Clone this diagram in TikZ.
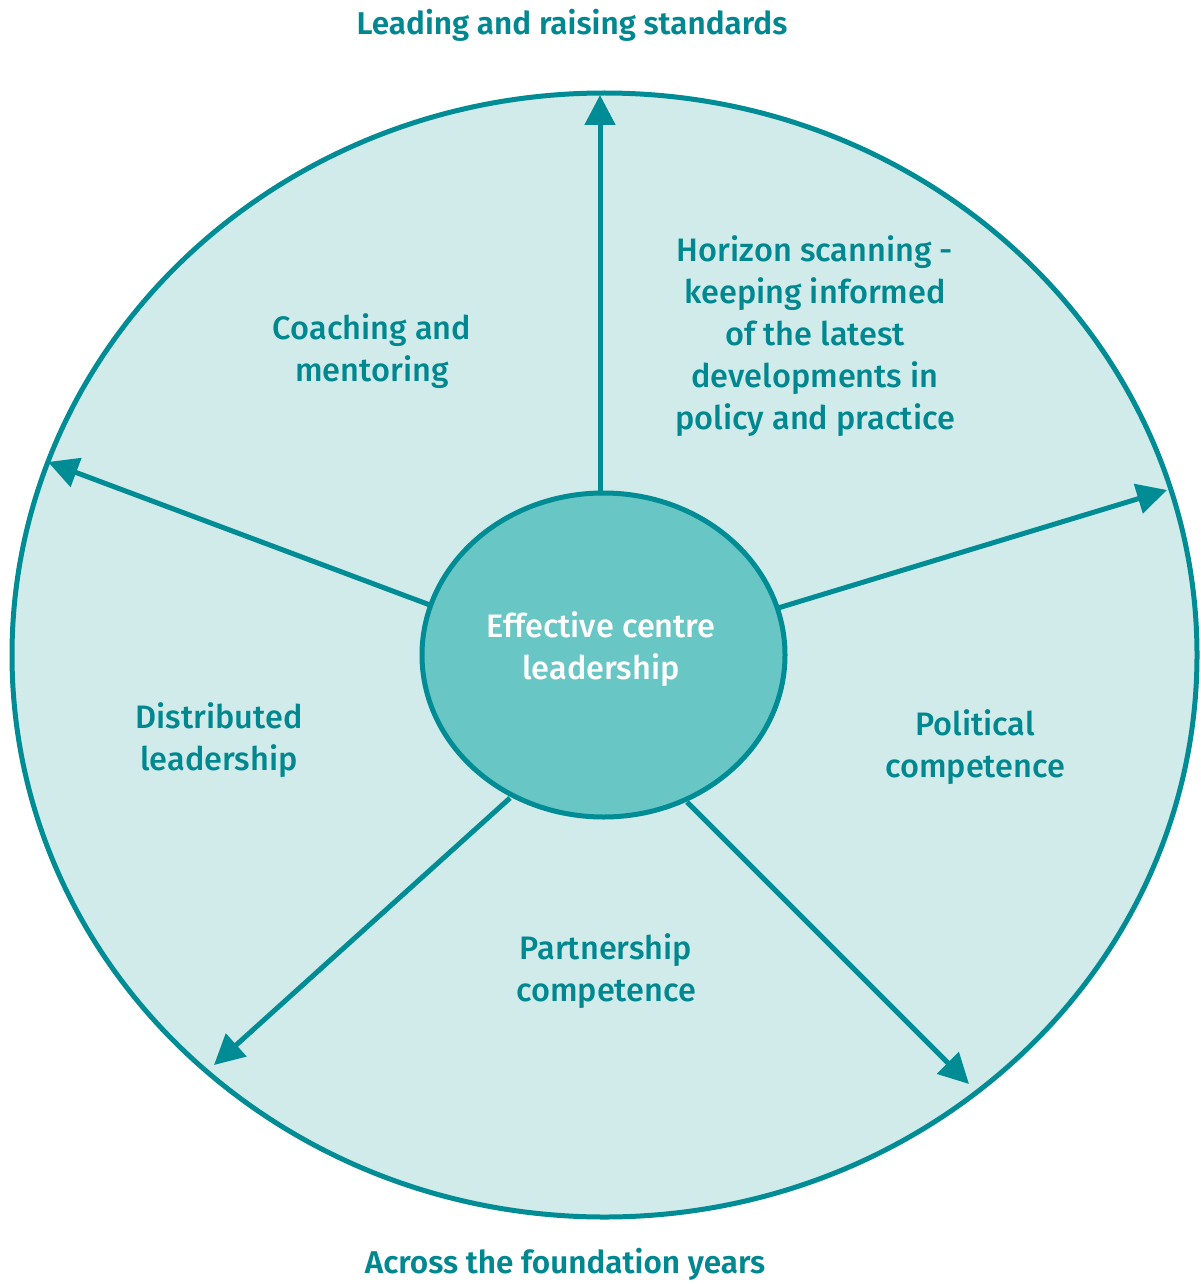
\documentclass[tikz,border=0pt]{standalone}
\usepackage{fontspec}
\IfFontExistsTF{Fira Sans Medium}{%
  \setmainfont{Fira Sans Medium}[BoldFont={Fira Sans SemiBold}]}{%
  \setmainfont{Fira Sans}[UprightFeatures={FakeBold=0.6}]}
\usetikzlibrary{arrows.meta,shapes.geometric}
\definecolor{teal1}{HTML}{008C95}
\definecolor{tealtxt}{HTML}{00878F}
\definecolor{lightfill}{HTML}{D0EBEA}
\definecolor{midfill}{HTML}{68C7C5}
\tikzset{
  lbl/.style={text=tealtxt, align=center, font=\fontsize{32.5}{42}\selectfont},
  ttl/.style={text=tealtxt, font=\fontsize{31.5}{36}\selectfont\bfseries},
  spoke/.style={draw=teal1, line width=5pt, -{Triangle[length=30pt,width=30pt]}},
}
\begin{document}
\begin{tikzpicture}[x=1pt,y=-1pt]
\useasboundingbox (0,0) rectangle (1200,1284);
\node[ellipse, draw=teal1, line width=5pt, fill=lightfill, minimum width=1185pt, minimum height=1124pt, inner sep=0pt] (outer) at (604.5,655) {};
\node[ellipse, draw=teal1, line width=5pt, fill=midfill, minimum width=363pt, minimum height=324pt, inner sep=0pt] (inner) at (603.5,655) {};
\coordinate (s1) at (600,493); \coordinate (t1) at (600,95);
\coordinate (s2) at (778,608); \coordinate (t2) at (1167,490);
\coordinate (s3) at (430,605); \coordinate (t3) at (48,462);
\coordinate (s4) at (510,798); \coordinate (t4) at (214,1065);
\coordinate (s5) at (687,802); \coordinate (t5) at (969,1084);
\draw[spoke] (s1) -- (t1);
\draw[spoke] (s2) -- (t2);
\draw[spoke] (s3) -- (t3);
\draw[spoke] (s4) -- (t4);
\draw[spoke] (s5) -- (t5);
\node[lbl] (coach) at (372,351) {Coaching and\\mentoring};
\node[lbl] (horizon) at (815,336) {Horizon scanning -\\keeping informed\\of the latest\\developments in\\policy and practice};
\node[lbl, text=white] (centre) at (601,649) {Effective centre\\leadership};
\node[lbl] (distr) at (219,740) {Distributed\\leadership};
\node[lbl] (polit) at (975,747) {Political\\competence};
\node[lbl] (partner) at (606,971) {Partnership\\competence};
\node[ttl] (lead) at (572,25) {Leading and raising standards};
\node[ttl] (across) at (565,1264) {Across the foundation years};
\end{tikzpicture}
\end{document}
